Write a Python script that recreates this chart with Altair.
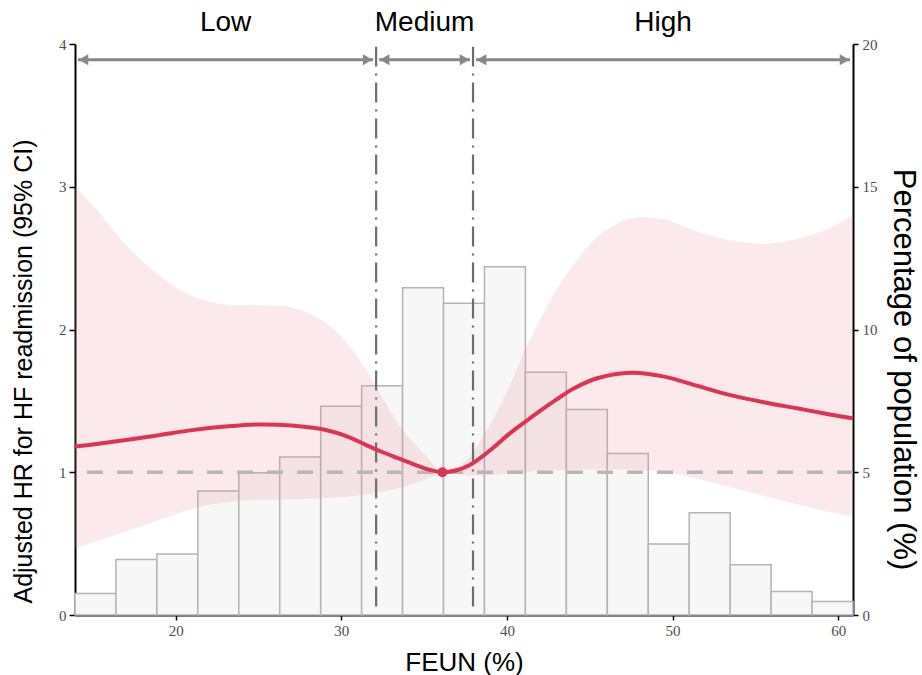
import altair as alt
import numpy as np
import pandas as pd

# ---------------- data ----------------
x_min, x_max = 13.92, 60.89

# histogram: percentage of population per bin (19 equal bins across the range)
pct = [0.75, 1.94, 2.14, 4.34, 4.98, 5.53, 7.31, 8.03, 11.46, 10.92,
       12.2, 8.5, 7.2, 5.66, 2.49, 3.58, 1.76, 0.82, 0.47]

# restricted cubic spline: FEUN vs adjusted HR with 95% CI
feun = [13.92, 15.0, 17.0, 19.0, 21.0, 23.0, 25.0, 27.0, 29.0, 30.5,
        31.5, 32.5, 33.5, 34.5, 35.3, 36.1, 36.9, 37.7, 38.5, 39.3,
        40.1, 41.0, 42.0, 43.0, 44.0, 45.5, 47.5, 49.5, 51.5, 53.5,
        55.5, 57.5, 59.5, 60.89]
hr = [1.18, 1.195, 1.226, 1.26, 1.295, 1.32, 1.335, 1.327, 1.298, 1.245,
      1.19, 1.14, 1.095, 1.05, 1.018, 1.0, 1.012, 1.047, 1.11, 1.185,
      1.265, 1.345, 1.43, 1.51, 1.585, 1.66, 1.697, 1.67, 1.605, 1.54,
      1.49, 1.448, 1.405, 1.378]
hr_lo = [0.467, 0.51, 0.585, 0.665, 0.745, 0.79, 0.807, 0.81, 0.82, 0.83,
         0.845, 0.865, 0.89, 0.925, 0.96, 1.0, 0.99, 0.978, 0.978, 0.983,
         0.99, 1.0, 1.01, 1.016, 1.018, 1.02, 1.02, 1.005, 0.955, 0.895,
         0.835, 0.775, 0.72, 0.69]
hr_hi = [3.0, 2.87, 2.59, 2.38, 2.235, 2.175, 2.17, 2.155, 2.05, 1.88,
         1.72, 1.52, 1.33, 1.19, 1.09, 1.0, 1.035, 1.1, 1.24, 1.40,
         1.59, 1.83, 2.07, 2.28, 2.45, 2.655, 2.78, 2.77, 2.685, 2.625,
         2.60, 2.635, 2.71, 2.80]

ref_x, ref_hr = 36.1, 1.0
cut_low, cut_high = 32.1, 37.95
groups = ["Low", "Medium", "High"]

# ---------------- tables ----------------
edges = np.linspace(x_min, x_max, len(pct) + 1)
hist_df = pd.DataFrame({"x0": edges[:-1], "x1": edges[1:], "pct": pct})
curve_df = pd.DataFrame({"feun": feun, "hr": hr, "lo": hr_lo, "hi": hr_hi})
ref_df = pd.DataFrame({"feun": [ref_x], "hr": [ref_hr]})
cuts_df = pd.DataFrame({"cut": [cut_low, cut_high]})
seg_df = pd.DataFrame({"label": groups,
                       "start": [x_min, cut_low, cut_high],
                       "end": [cut_low, cut_high, x_max]})

# ---------------- styling ----------------
RED = "#df3352"
LABEL_FONT = "Liberation Serif"
TITLE_FONT = "Liberation Sans"

X_SCALE = alt.Scale(domain=[x_min, x_max], nice=False, zero=False)
HR_SCALE = alt.Scale(domain=[0, 4], nice=False, zero=False)
PCT_SCALE = alt.Scale(domain=[0, 20], nice=False, zero=False)

common_axis = dict(grid=False, domainColor="black", domainWidth=2,
                   tickColor="black", tickWidth=1.5,
                   labelFont=LABEL_FONT, labelFontSize=15, labelColor="#4d4d4d",
                   titleFont=TITLE_FONT, titleColor="black", titleFontWeight="normal")

x_axis = alt.Axis(values=[20, 30, 40, 50, 60], format="d", title="FEUN (%)",
                  tickSize=5, labelPadding=3, titleFontSize=26,
                  titleX=389, titleY=47, titleBaseline="middle", titleAlign="center",
                  **common_axis)
hr_axis = alt.Axis(orient="left", values=[0, 1, 2, 3, 4], format="d",
                   title="Adjusted HR for HF readmission (95% CI)",
                   tickSize=6, labelPadding=3, titleFontSize=25, titleAngle=-90,
                   titleX=-52, titleY=327, titleBaseline="middle", titleAlign="center",
                   **common_axis)
pct_axis = alt.Axis(orient="right", values=[0, 5, 10, 15, 20], format="d",
                    title="Percentage of population (%)",
                    tickSize=5, labelPadding=4, titleFontSize=31, titleAngle=90,
                    titleX=49.5, titleY=325, titleBaseline="middle", titleAlign="center",
                    **common_axis)


def xq(field):
    return alt.X(field, type="quantitative", scale=X_SCALE, axis=x_axis)


def yhr(field):
    return alt.Y(field, type="quantitative", scale=HR_SCALE, axis=hr_axis)


# ---------------- layers ----------------
hist = alt.Chart(hist_df).mark_rect(
    fill="#f8f7f8", stroke="#b4b4b4", strokeWidth=1.5
).encode(
    x=xq("x0"), x2="x1",
    y=alt.Y("pct", type="quantitative", scale=PCT_SCALE, axis=pct_axis),
    y2=alt.datum(0),
)

ribbon = alt.Chart(curve_df).mark_area(
    color="#e88a95", opacity=0.19, interpolate="catmull-rom"
).encode(x=xq("feun"), y=yhr("lo"), y2="hi")

ref_line = alt.Chart(ref_df).mark_rule(
    color="#bbb5b7", strokeWidth=3.5, strokeDash=[16, 14]
).encode(y=yhr("hr"))

cut_lines = alt.Chart(cuts_df).mark_rule(
    color="#6e6e6e", strokeWidth=2.2, strokeDash=[20, 7, 2, 7]
).encode(x=xq("cut"), y=alt.datum(0.06, scale=HR_SCALE), y2=alt.datum(3.98))

curve = alt.Chart(curve_df).mark_line(
    color=RED, strokeWidth=4, interpolate="catmull-rom"
).encode(x=xq("feun"), y=yhr("hr"))

ref_point = alt.Chart(ref_df).mark_circle(
    color=RED, size=100, opacity=1
).encode(x=xq("feun"), y=yhr("hr"))

arrows = alt.Chart(seg_df).mark_rule(
    color="#878787", strokeWidth=3, xOffset=3, x2Offset=-3
).encode(x=xq("start"), x2="end", y=alt.datum(3.89, scale=HR_SCALE))

heads_l = alt.Chart(seg_df).mark_point(
    shape="triangle-left", filled=True, size=121, color="#878787", opacity=1, xOffset=8.5
).encode(x=xq("start"), y=alt.datum(3.89, scale=HR_SCALE))

heads_r = alt.Chart(seg_df).mark_point(
    shape="triangle-right", filled=True, size=121, color="#878787", opacity=1, xOffset=-8.5
).encode(x=xq("end"), y=alt.datum(3.89, scale=HR_SCALE))

labels = alt.Chart(seg_df).transform_calculate(
    mid="(datum.start + datum.end) / 2"
).mark_text(
    font=TITLE_FONT, fontSize=28, color="black", baseline="middle", align="center"
).encode(x=xq("mid"), y=alt.datum(4.147, scale=HR_SCALE), text="label:N")

hr_layers = alt.layer(ribbon, ref_line, cut_lines, curve, ref_point,
                      arrows, heads_l, heads_r, labels)

chart = alt.layer(hist, hr_layers).resolve_scale(
    y="independent"
).properties(
    width=778, height=571,
    padding={"left": 75, "top": 44, "right": 69, "bottom": 60},
    autosize=alt.AutoSizeParams(type="none"),
    background="white",
).configure_view(stroke=None)

chart.save("out.html", embed_options={"renderer": "svg", "actions": False})
